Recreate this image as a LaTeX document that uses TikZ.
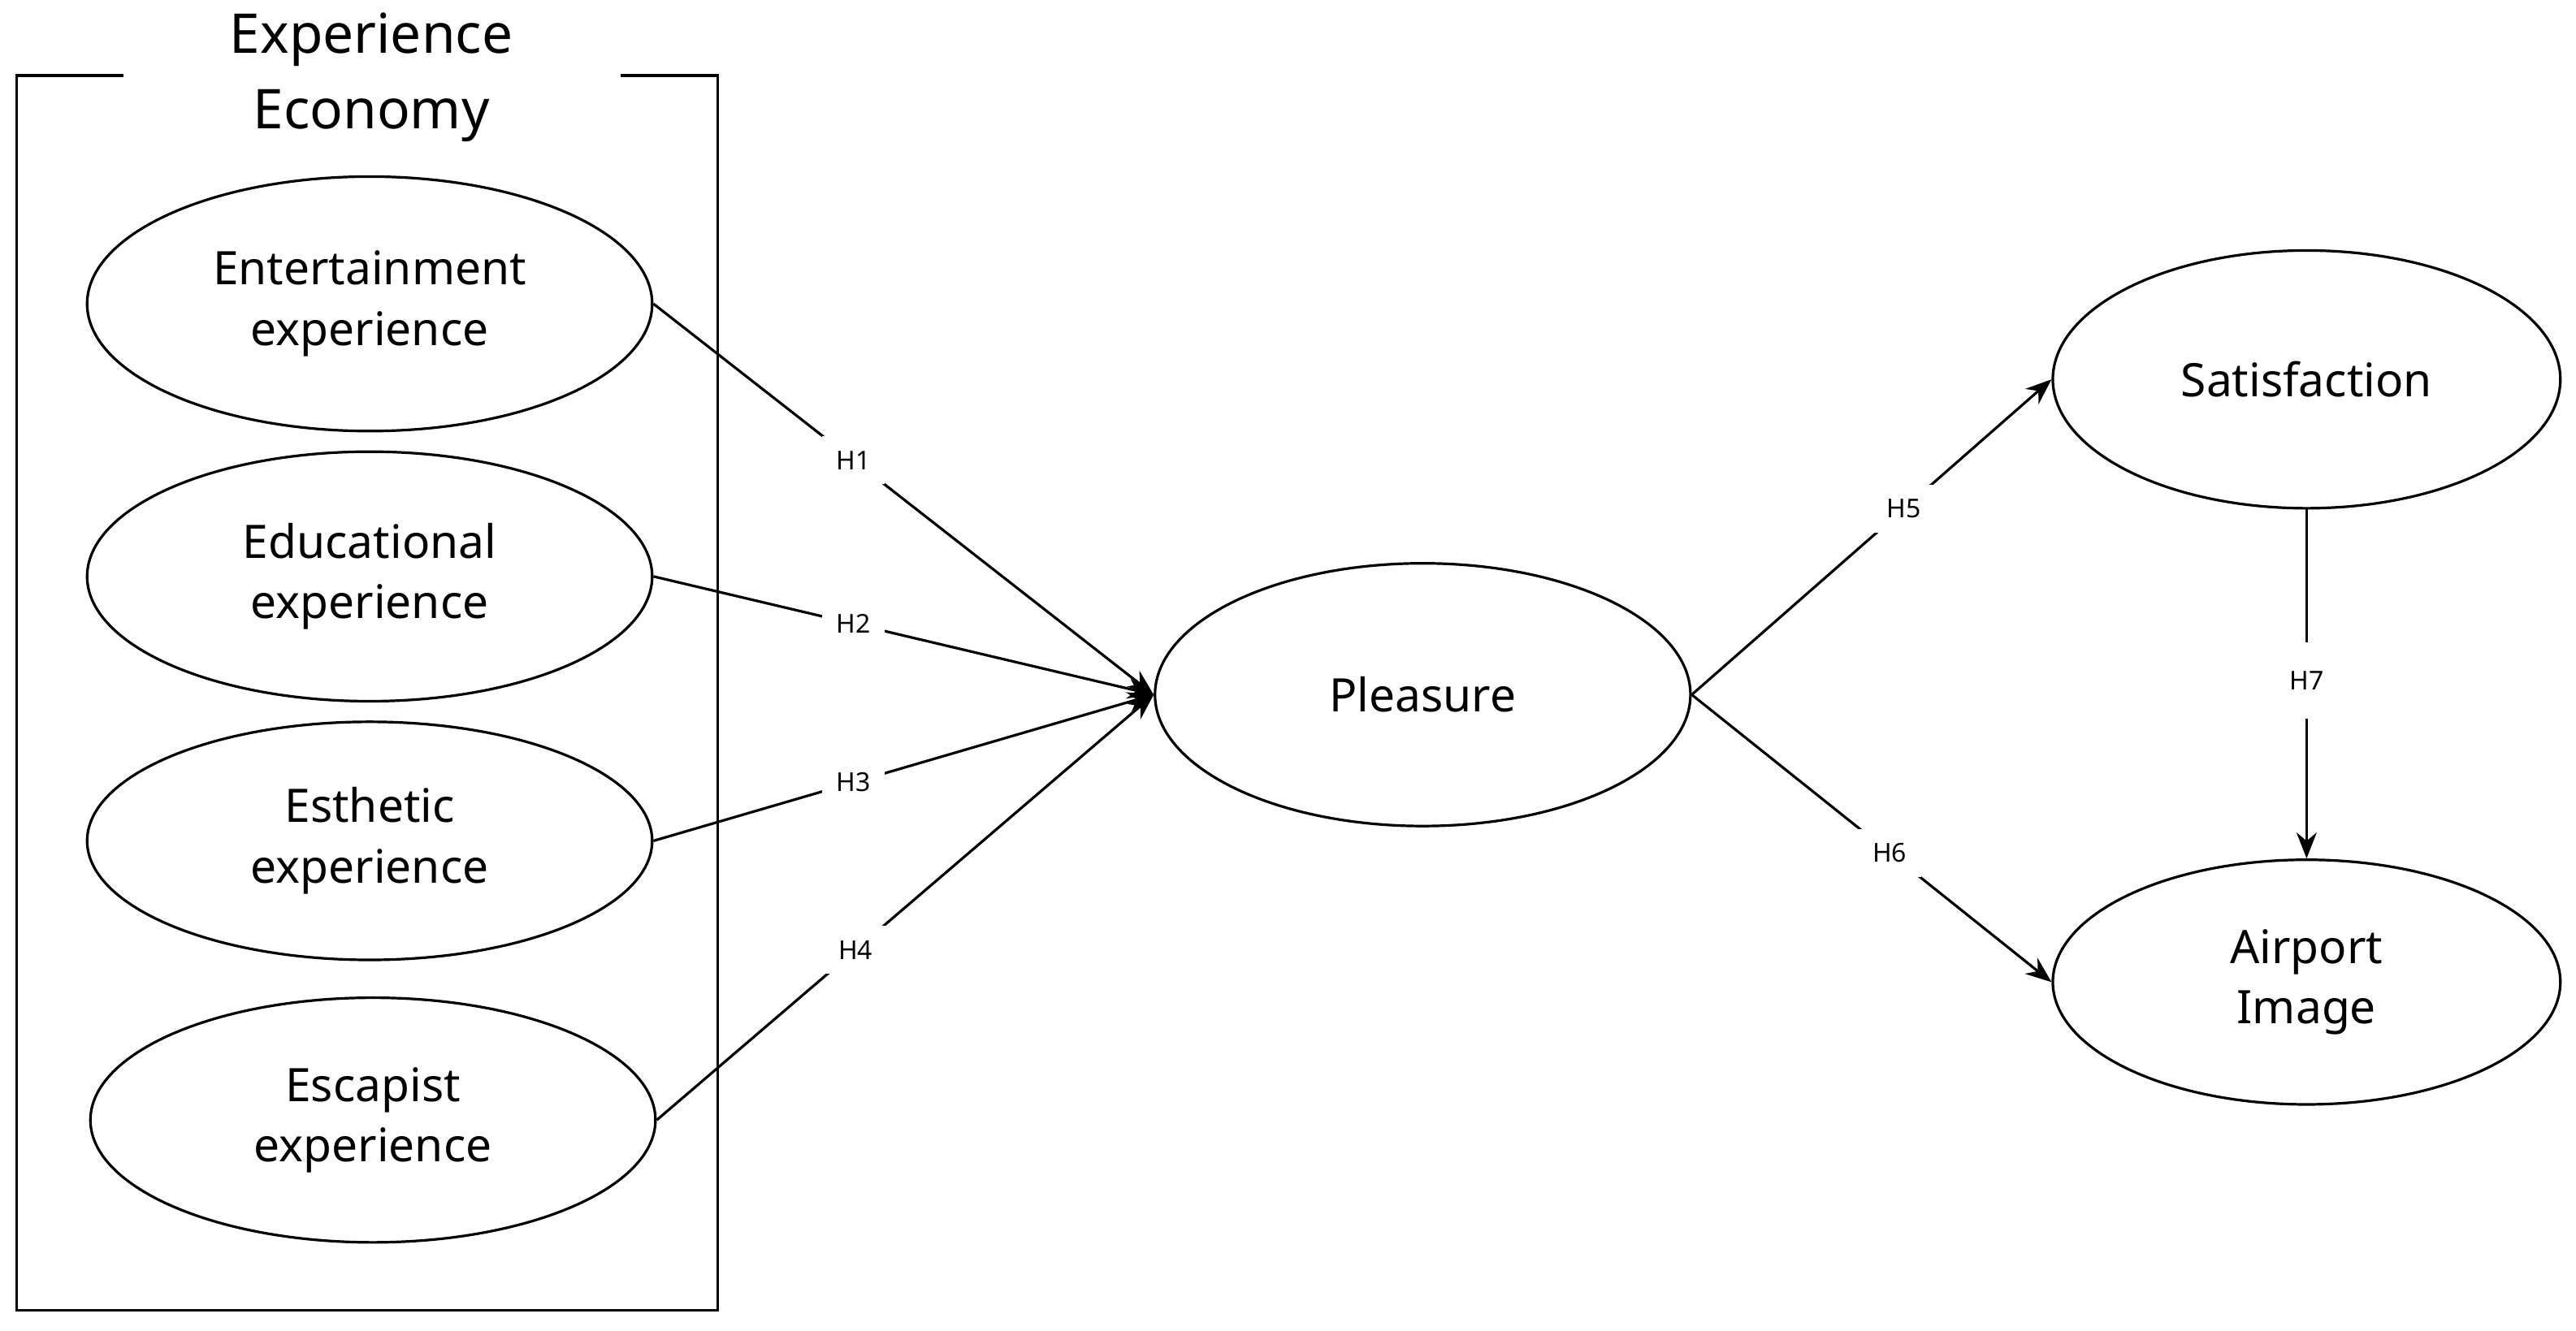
\documentclass[tikz,border=0pt]{standalone}
\usepackage{fontspec}
\setmainfont{Noto Sans}
\usetikzlibrary{shapes.geometric,arrows.meta}
\begin{document}
\begin{tikzpicture}[x=0.02cm,y=-0.02cm,
  ell/.style={ellipse,draw,line width=0.9pt,inner sep=0pt,align=center,font=\fontsize{16}{21}\selectfont},
  lab/.style={fill=white,inner sep=5pt,font=\fontsize{9}{11}\selectfont},
  con/.style={line width=0.9pt},
  arr/.style={con,-{Stealth[length=9pt,width=7pt]}}]
\useasboundingbox (0,0) rectangle (1568,810);
\draw[line width=0.9pt] (75,46) -- (10,46) -- (10,798) -- (437,798) -- (437,46) -- (378,46);
\node[align=center,font=\fontsize{19}{26}\selectfont] (title) at (226,47) {Experience\\Economy};
\node[ell,minimum width=344\pgflinewidth*0+6.88cm,minimum height=3.1cm] (ent) at (225,185) {Entertainment\\experience};
\node[ell,minimum width=6.88cm,minimum height=3.04cm] (edu) at (225,351) {Educational\\experience};
\node[ell,minimum width=6.88cm,minimum height=2.9cm] (est) at (225,512) {Esthetic\\experience};
\node[ell,minimum width=6.88cm,minimum height=2.98cm] (esc) at (227,682) {Escapist\\experience};
\node[ell,minimum width=6.52cm,minimum height=3.2cm] (pl) at (866,423) {Pleasure};
\node[ell,minimum width=6.18cm,minimum height=3.14cm] (sat) at (1404,231) {Satisfaction};
\node[ell,minimum width=6.18cm,minimum height=2.98cm] (air) at (1404,598) {Airport\\Image};
\draw[arr] (ent.east) -- node[lab,pos=0.4]{H1} (pl.west);
\draw[arr] (edu.east) -- node[lab,pos=0.4]{H2} (pl.west);
\draw[arr] (est.east) -- node[lab,pos=0.4]{H3} (pl.west);
\draw[arr] (esc.east) -- node[lab,pos=0.4]{H4} (pl.west);
\draw[arr] (pl.east) -- node[lab,pos=0.59]{H5} (sat.west);
\draw[arr] (pl.east) -- node[lab,pos=0.55]{H6} (air.west);
\draw[arr] (sat.south) -- node[lab,pos=0.49,inner ysep=10pt]{H7} (air.north);
\end{tikzpicture}
\end{document}
